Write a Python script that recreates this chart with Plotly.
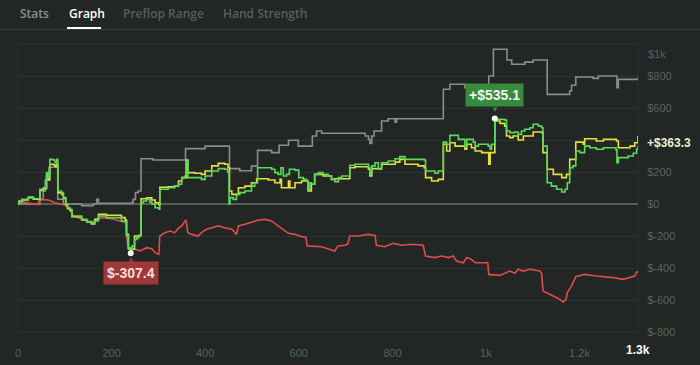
import plotly.graph_objects as go

# ---------------- data (hand number, cumulative $) ----------------
green_hands = [0,2,8,22,33,47,54,61,65,68,75,79,83,85,93,97,102,106,111,115,136,147,157,164,172,189,221,229,232,236,241,244,249,254,259,263,268,275,282,286,293,301,303,321,335,343,350,357,359,363,392,400,414,428,442,448,451,453,460,467,474,485,499,506,512,528,542,549,556,562,567,574,580,592,600,610,617,620,624,627,634,642,652,663,670,677,685,692,709,720,742,749,752,756,763,770,777,791,806,816,827,868,871,891,898,909,916,923,941,955,959,973,977,984,1005,1009,1012,1019,1023,1040,1044,1051,1062,1069,1076,1083,1094,1101,1112,1119,1122,1131,1140,1151,1162,1169,1174,1179,1186,1192,1201,1211,1222,1236,1251,1278,1280,1283,1304,1315,1322,1325]
green_values = [0,19,29,44,33,92,102,196,165,279,275,258,279,81,71,40,0,-23,-33,-75,-96,-112,-127,-106,-75,-85,-106,-112,-200,-283,-307.4,-262,-221,-210,-200,8,19,29,12,0,-23,-33,92,102,112,123,165,175,269,165,154,175,206,221,217,200,0,40,29,60,71,81,112,133,227,227,217,196,185,227,175,185,217,212,165,154,144,92,133,123,185,196,185,175,154,140,165,175,242,248,248,227,185,238,258,217,258,269,283,296,279,275,206,192,206,387,373,429,404,362,404,387,362,373,362,342,373,535.1,529,525,456,446,450,435,456,467,477,498,487,477,362,133,112,92,75,92,133,227,238,331,321,362,352,342,352,338,258,290,300,317,342,363.3]

yellow_hands = [0,2,8,22,33,47,54,61,65,68,75,79,83,85,93,97,102,106,111,115,136,147,157,164,172,189,221,229,232,236,241,249,259,263,275,286,293,301,303,321,335,343,350,360,363,378,392,400,414,428,442,449,452,457,471,485,499,510,535,549,560,563,578,581,592,606,620,627,634,652,670,677,709,720,749,752,756,777,806,816,827,855,868,871,884,898,909,916,923,934,955,959,969,977,991,1006,1009,1019,1030,1040,1044,1051,1058,1069,1080,1101,1119,1122,1131,1144,1162,1172,1179,1192,1208,1211,1236,1251,1279,1283,1308,1318,1325]
yellow_values = [0,15,25,40,30,85,95,180,150,248,245,235,248,70,60,35,-5,-30,-40,-80,-100,-110,-120,-95,-65,-70,-85,-100,-190,-275,-283,-200,-195,33,38,25,8,-5,105,108,112,144,165,275,196,192,185,206,238,254,248,227,81,60,102,112,133,158,150,133,154,102,144,102,133,144,81,123,185,175,154,158,227,233,217,175,221,248,262,279,248,238,227,165,144,154,373,331,383,362,342,373,352,331,321,248,321,519,504,487,425,415,425,400,425,450,446,321,217,185,165,185,279,387,373,408,394,404,394,352,362,383,425]

gray_hands = [0,47,54,58,62,66,85,97,136,161,168,172,243,246,251,257,263,289,358,400,452,474,499,512,542,558,578,599,629,638,649,742,749,752,756,761,777,791,806,809,909,923,955,1006,1016,1045,1055,1083,1101,1131,1179,1183,1192,1229,1240,1280,1283,1325]
gray_values = [0,29,80,150,190,230,30,0,-10,0,29,4,8,29,71,81,283,275,346,362,221,208,237,335,321,367,398,362,425,456,442,425,404,379,425,456,519,533,512,533,717,748,727,800,967,900,873,887,900,685,706,742,794,785,800,727,779,790]

red_hands = [0,2,33,43,45,65,79,100,111,118,136,157,168,179,200,221,230,232,236,250,261,275,286,293,301,303,314,325,335,342,350,357,359,363,371,385,392,403,414,428,442,457,467,471,485,499,514,528,542,556,567,578,592,606,615,618,649,663,677,684,699,705,709,727,749,763,766,784,802,820,841,866,871,891,905,920,930,937,952,959,969,977,1004,1006,1030,1051,1062,1069,1080,1094,1115,1119,1122,1144,1158,1165,1171,1174,1183,1192,1211,1236,1272,1293,1318,1322,1325]
red_values = [0,17,0,-4,29,25,8,-6,-33,-75,-92,-121,-96,-85,-92,-106,-115,-200,-283,-283,-293,-273,-279,-304,-314,-200,-179,-169,-179,-154,-137,-106,-100,-179,-190,-200,-179,-158,-148,-137,-148,-158,-190,-137,-127,-112,-100,-96,-106,-137,-158,-183,-190,-204,-208,-262,-267,-283,-294,-262,-258,-250,-200,-200,-190,-196,-258,-267,-246,-258,-252,-258,-325,-335,-325,-335,-325,-356,-367,-335,-346,-367,-367,-440,-446,-419,-433,-408,-419,-408,-419,-433,-544,-575,-596,-612,-596,-554,-512,-454,-440,-450,-460,-471,-450,-425,-425]

peak_hand, peak_value = [1019], [535.1]
trough_hand, trough_value = [241], [-307.4]
final_hand, final_value = 1325, 363.3

x_tickvals = [0, 200, 400, 600, 800, 1000, 1200]
x_ticktext = ["0", "200", "400", "600", "800", "1k", "1.2k"]
y_tickvals = [-800, -600, -400, -200, 0, 200, 400, 600, 800]
# the $400 label is covered by the final-value label in the reference
y_ticktext = ["$-800", "$-600", "$-400", "$-200", "$0", "$200", "", "$600", "$800"]
tabs = ["Stats", "Graph", "Preflop Range", "Hand Strength"]

# ---------------- styling ----------------
BG = "#222625"
GRID = "#2e3332"
TICK = "#5b6160"
GREEN = "#5ada5a"
YELLOW = "#e6e03c"
RED = "#e24b4b"
GRAY = "#8c8c8c"

fig = go.Figure()
fig.add_trace(go.Scatter(x=gray_hands, y=gray_values, mode="lines", line=dict(color=GRAY, width=1.6, shape="hv")))
fig.add_trace(go.Scatter(x=red_hands, y=red_values, mode="lines", line=dict(color=RED, width=1.6)))
fig.add_trace(go.Scatter(x=yellow_hands, y=yellow_values, mode="lines", line=dict(color=YELLOW, width=1.6, shape="hv")))
fig.add_trace(go.Scatter(x=green_hands, y=green_values, mode="lines", line=dict(color=GREEN, width=1.6, shape="hv")))
fig.add_trace(go.Scatter(x=peak_hand + trough_hand, y=peak_value + trough_value, mode="markers",
                         marker=dict(color="white", size=6)))

fig.update_layout(
    width=700, height=365,
    margin=dict(l=18, r=62, t=44, b=33, autoexpand=False),
    paper_bgcolor=BG, plot_bgcolor=BG,
    showlegend=False,
    hovermode=False,
    font=dict(family="Liberation Sans, Arial, sans-serif", color=TICK, size=11),
    xaxis=dict(range=[0, 1325], showgrid=False, zeroline=False, showline=False, automargin=False,
               tickvals=x_tickvals, ticktext=x_ticktext, ticks="outside", ticklen=11,
               tickcolor=BG, tickfont=dict(size=11, color=TICK)),
    yaxis=dict(range=[-800, 1000], side="right", showgrid=True, gridcolor=GRID, gridwidth=1,
               automargin=False,
               zeroline=True, zerolinecolor="#575c5b", zerolinewidth=1.5,
               tickvals=y_tickvals, ticktext=y_ticktext, ticks="outside", ticklen=6,
               tickcolor=BG, tickfont=dict(size=11, color=TICK)),
)

# plot frame
fig.add_shape(type="rect", xref="paper", yref="paper", x0=0, x1=1, y0=0, y1=1,
              line=dict(color=GRID, width=1), layer="below")

# "$1k" label sits inside the top edge
fig.add_annotation(x=1, xref="paper", y=1000, yref="y", text="$1k", showarrow=False,
                   xanchor="left", xshift=8, yshift=-10, font=dict(size=11, color=TICK))
# final value label
fig.add_annotation(x=final_hand, y=final_value, text="<b>+$363.3</b>", showarrow=False,
                   xanchor="left", xshift=7, yshift=3, font=dict(size=12, color="#e9f1cb"))
# final hands label
fig.add_annotation(x=final_hand, xref="x", y=0, yref="paper", text="<b>1.3k</b>", showarrow=False,
                   yanchor="middle", yshift=-18, font=dict(size=12, color="#ffffff"))

# peak tooltip
fig.add_annotation(x=peak_hand[0], y=peak_value[0], text="<b>+$535.1</b>", showarrow=False,
                   yshift=23, bgcolor="#388a3c", borderpad=3,
                   font=dict(size=14, color="#eef6ea"))
fig.add_annotation(x=peak_hand[0], y=peak_value[0], text="▼", showarrow=False,
                   yshift=9, font=dict(size=8, color="#388a3c"))
# trough tooltip
fig.add_annotation(x=trough_hand[0], y=trough_value[0], text="<b>$-307.4</b>", showarrow=False,
                   yshift=-20, bgcolor="#a03838", borderpad=3,
                   font=dict(size=14, color="#f3dcdc"))
fig.add_annotation(x=trough_hand[0], y=trough_value[0], text="▲", showarrow=False,
                   yshift=-6, font=dict(size=8, color="#a03838"))

# tabs header
tab_x = [0, 0.079, 0.166, 0.327]
tab_colors = ["#8b9190", "#ffffff", "#585e5d", "#585e5d"]
for t, x, c in zip(tabs, tab_x, tab_colors):
    fig.add_annotation(x=x, xref="paper", y=1.1066, yref="paper", text=t, showarrow=False,
                       xanchor="left", yanchor="middle",
                       font=dict(family="Open Sans, sans-serif", size=12, color=c, weight=600))
fig.add_shape(type="line", xref="paper", yref="paper", x0=-0.03, x1=1.11, y0=1.0503, y1=1.0503,
              line=dict(color="#3a3f3e", width=1))
fig.add_shape(type="line", xref="paper", yref="paper", x0=0.079, x1=0.134, y0=1.0556, y1=1.0556,
              line=dict(color="#ffffff", width=2))

fig.write_html("out.html", config={"displayModeBar": False},
               post_script="document.body.style.margin='0';")
